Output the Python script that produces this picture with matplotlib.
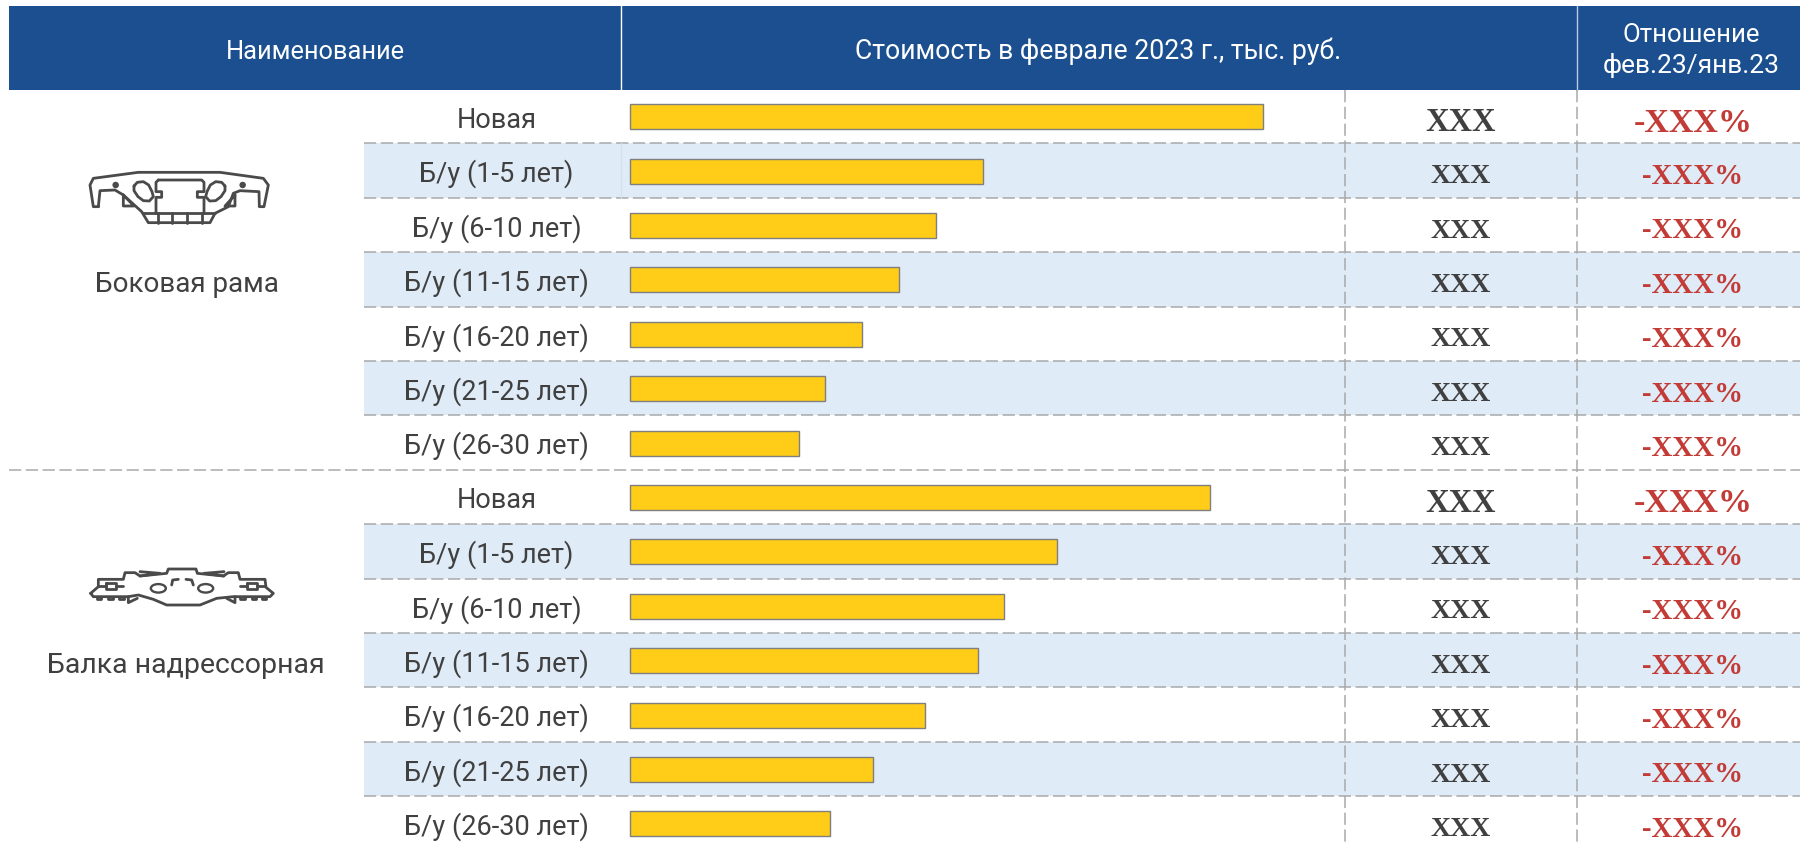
import numpy as np
import matplotlib
matplotlib.use('Agg')
import matplotlib.pyplot as plt
from matplotlib.patches import Ellipse, Rectangle

# --------------------------------------------------------------------------
# Data read from the picture (real prices are masked, lengths are estimates)
# --------------------------------------------------------------------------
header_name = 'Наименование'
header_cost = 'Стоимость в феврале 2023 г., тыс. руб.'
header_ratio = ['Отношение', 'фев.23/янв.23']
groups = ['Боковая рама', 'Балка надрессорная']
row_labels = ['Новая', 'Б/у (1-5 лет)', 'Б/у (6-10 лет)', 'Б/у (11-15 лет)',
              'Б/у (16-20 лет)', 'Б/у (21-25 лет)', 'Б/у (26-30 лет)']
frame_values = [633, 353, 306, 269, 232, 195, 169]
bolster_values = [580, 427, 374, 348, 295, 243, 200]
price_text = 'XXX'
ratio_text = '-XXX%'

# colours
HEADER = '#1B4F8F'
BAND = '#DFEBF7'
BAR = '#FFCD17'
BAR_EDGE = '#7F7F7F'
GRID = '#A9A9A9'
TEXT = '#404040'
RED = '#C23B36'
ICON = '#4A4A4A'

plt.rcParams['font.family'] = ['Roboto', 'DejaVu Sans']
SERIF = ['Liberation Serif', 'DejaVu Serif']

fig = plt.figure(figsize=(18, 8.46), dpi=100)
ax = fig.add_axes([0, 0, 1, 1])
ax.set_xlim(0, 1800)
ax.set_ylim(846, 0)
ax.axis('off')

TOP = 90
ROW_H = 54.4
FIRST_LINE = 143.5
DASH = (0, (8, 3))


def row_top(i):
    return TOP if i == 0 else FIRST_LINE + (i - 1) * ROW_H


def row_mid(i):
    return FIRST_LINE - 26.8 + i * ROW_H


def draw_icon(ox, oy, shapes):
    # shapes are outlines measured on a 3x crop of the icon
    for pts in shapes:
        pts = np.array(pts, dtype=float) / 3 + [ox, oy]
        ax.plot(pts[:, 0], pts[:, 1], color=ICON, lw=2, solid_joinstyle='round',
                solid_capstyle='round', zorder=4)


# ---- header
ax.add_patch(Rectangle((9, 6), 1791, 84, color=HEADER, lw=0, zorder=1))
ax.plot([621, 621], [6, 90], color='white', lw=1, zorder=2)
ax.plot([1577, 1577], [6, 90], color='#B9CBE3', lw=1, zorder=2)
ax.text(315, 59, header_name, color='white', fontsize=18.3, ha='center', va='baseline', zorder=3)
ax.text(1098, 59, header_cost, color='white', fontsize=19.2, ha='center', va='baseline', zorder=3)
ax.text(1691, 41.5, header_ratio[0], color='white', fontsize=18.5, ha='center', va='baseline', zorder=3)
ax.text(1691, 73, header_ratio[1], color='white', fontsize=19, ha='center', va='baseline', zorder=3)

# ---- rows
values = frame_values + bolster_values
labels = row_labels + row_labels
for i in range(len(values)):
    if i % 7 in (1, 3, 5):
        ax.add_patch(Rectangle((364, row_top(i)), 1436, ROW_H, color=BAND, lw=0, zorder=1))
    if i > 0:
        x0 = 9 if i == 7 else 364
        ax.plot([x0, 1800], [row_top(i)] * 2, color=GRID, lw=1.1, ls=DASH, zorder=2)
ax.plot([621, 621], [row_top(1), row_top(2)], color='#D3E0EE', lw=0.8, zorder=2)

y_pos = [row_mid(i) for i in range(len(values))]
ax.barh(y_pos, values, left=630, height=25, color=BAR, edgecolor=BAR_EDGE, linewidth=1, zorder=3)

for i, label in enumerate(labels):
    mid = row_mid(i)
    ax.text(496.5, mid + 11, label, color=TEXT, fontsize=19.5, ha='center', va='baseline', zorder=3)
    big = i % 7 == 0
    ax.text(1461, mid + (14 if big else 12), price_text, color=TEXT, family=SERIF, weight='bold',
            fontsize=23.5 if big else 20, ha='center', va='baseline', zorder=3)
    ax.text(1693, mid + (15 if big else 13), ratio_text, color=RED, family=SERIF, weight='bold',
            fontsize=24.5 if big else 20.8, ha='center', va='baseline', zorder=3)

for x in (1345, 1577):
    ax.plot([x, x], [90, 846], color=GRID, lw=1.1, ls=DASH, zorder=2)

ax.text(187, 291.5, groups[0], color=TEXT, fontsize=20, ha='center', va='baseline', zorder=3)
ax.text(186, 673, groups[1], color=TEXT, fontsize=20.5, ha='center', va='baseline', zorder=3)

# ---- side frame icon
frame_ox, frame_oy = 60, 150
frame_shapes = [
    [(115, 170), (100, 170), (90, 105), (100, 85), (235, 67), (480, 67), (610, 85), (625, 105),
     (612, 170), (598, 170), (597, 125), (540, 122), (520, 130), (505, 170), (465, 190), (450, 218),
     (265, 218), (245, 185), (190, 135), (165, 120), (120, 122), (115, 170)],
    [(295, 90), (425, 90), (432, 97), (432, 125), (412, 125), (412, 142), (432, 142), (432, 190)],
    [(295, 90), (288, 97), (288, 125), (305, 125), (305, 142), (288, 142), (288, 190)],
    [(222, 108), (232, 97), (250, 95), (266, 105), (276, 125), (280, 140), (268, 153), (250, 152),
     (234, 140), (222, 122), (222, 108)],
    [(495, 108), (485, 97), (467, 95), (451, 105), (441, 125), (437, 140), (449, 153), (467, 152),
     (483, 140), (495, 122), (495, 108)],
    [(250, 190), (465, 190)],
    [(295, 190), (295, 218)], [(335, 190), (335, 218)], [(380, 190), (380, 218)], [(425, 190), (425, 218)],
    [(190, 135), (190, 168), (222, 168), (190, 135)],
    [(525, 135), (525, 168), (495, 168), (525, 135)],
]
draw_icon(frame_ox, frame_oy, frame_shapes)
for dx in (167, 548):
    ax.add_patch(Ellipse((frame_ox + dx / 3, frame_oy + 105 / 3), 6.5, 6.5, color=ICON, lw=0, zorder=4))

# ---- bolster icon
bolster_ox, bolster_oy = 60, 530
bolster_shapes = [
    [(92, 190), (115, 170), (115, 148), (190, 148), (195, 128), (225, 128), (240, 138), (320, 130),
     (325, 117), (408, 117), (412, 130), (490, 138), (505, 128), (535, 128), (540, 148), (615, 148),
     (618, 172), (640, 190), (630, 200), (520, 200), (470, 205), (420, 225), (320, 225), (280, 208),
     (235, 195), (205, 200), (100, 200), (92, 190)],
    [(138, 158), (168, 158), (168, 178), (138, 178), (138, 158)],
    [(562, 158), (592, 158), (592, 178), (562, 178), (562, 158)],
    [(115, 168), (138, 168)], [(168, 168), (190, 168)],
    [(540, 168), (562, 168)], [(592, 168), (615, 168)],
    [(335, 165), (338, 150), (355, 148)], [(378, 148), (395, 150), (400, 165)],
    [(205, 200), (205, 218), (232, 205)], [(525, 200), (525, 218), (500, 205)],
    [(240, 125), (300, 130), (240, 138)], [(492, 125), (432, 130), (492, 138)],
]
for left in (110, 145, 178, 540, 575, 605):
    bolster_shapes.append([(left, 200), (left, 208), (left + 14, 208), (left + 14, 200)])
draw_icon(bolster_ox, bolster_oy, bolster_shapes)
for dx in (295, 437):
    ax.add_patch(Ellipse((bolster_ox + dx / 3, bolster_oy + 175 / 3), 15, 8.5, fc='none', ec=ICON, lw=1.7, zorder=4))

fig.savefig('out.png', dpi=100)
